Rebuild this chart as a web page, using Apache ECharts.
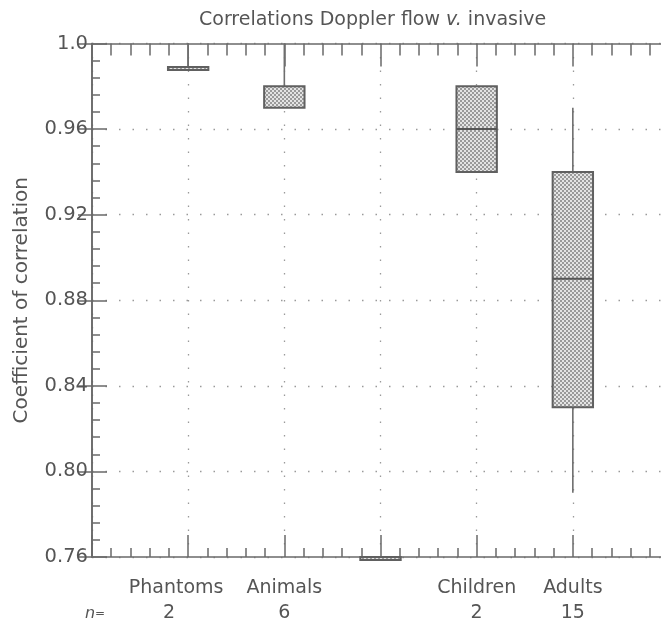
<!DOCTYPE html>
<html>
<head>
<meta charset="utf-8">
<script src="https://cdn.jsdelivr.net/npm/echarts@6/dist/echarts.min.js"></script>
<style>
html,body{margin:0;padding:0;background:#fff;}
#chart{width:661px;height:619px;}
</style>
</head>
<body>
<div id="chart"></div>
<script>
// ---- data ----
const categories = ['', 'Phantoms', 'Animals', '', 'Children', 'Adults', ''];
const nValues    = ['n=', '2', '6', '', '2', '15', ''];
const positions  = [1, 2, 3, 4, 5];
const lows    = [0.989, 0.970, 0.760, 0.940, 0.790];
const q1s     = [0.989, 0.970, 0.760, 0.940, 0.830];
const medians = [0.989, 0.970, 0.760, 0.960, 0.890];
const q3s     = [0.989, 0.980, 0.760, 0.980, 0.940];
const highs   = [1.000, 1.000, 0.760, 0.980, 0.970];
const yTicks  = [0.76, 0.80, 0.84, 0.88, 0.92, 0.96, 1.0];

// stipple pattern
const pc = document.createElement('canvas');
pc.width = 4; pc.height = 4;
const pctx = pc.getContext('2d');
pctx.fillStyle = '#e4e4e4'; pctx.fillRect(0,0,4,4);
pctx.fillStyle = '#9a9a9a'; pctx.fillRect(0,0,2,2); pctx.fillRect(2,2,2,2);
const stipple = {image: pc, repeat: 'repeat'};

const boxData = positions.map((p, i) => [p, lows[i], q1s[i], medians[i], q3s[i], highs[i]]);

const axisCol = '#6a6a6a';
const textCol = '#555555';
const font = 'DejaVu Sans';

const chart = echarts.init(document.getElementById('chart'));
chart.setOption({
  animation: false,
  backgroundColor: '#fff',
  title: {
    text: '{a|Correlations Doppler flow }{i|v.}{a| invasive}',
    left: 199, top: 11, padding: 0,
    textStyle: {
      fontWeight: 'normal',
      rich: {
        a: {fontFamily: font, fontSize: 19, fontWeight: 'normal', color: textCol},
        i: {fontFamily: font, fontSize: 19, fontWeight: 'normal', color: textCol, fontStyle: 'italic'}
      }
    }
  },
  grid: {left: 92, right: -8, top: 43.5, bottom: 62, outerBoundsMode: 'none', containLabel: false},
  xAxis: [{
    type: 'value', min: 0, max: 6, interval: 1, position: 'bottom',
    axisLine: {show: true, lineStyle: {color: axisCol, width: 1.6}},
    axisTick: {show: true, inside: true, length: 22, lineStyle: {color: axisCol, width: 1.5}},
    minorTick: {show: true, splitNumber: 5, length: 9, lineStyle: {color: axisCol, width: 1.5}},
    splitLine: {show: true, lineStyle: {color: '#9a9a9a', width: 1.3, type: [1.5, 12]}},
    axisLabel: {
      showMinLabel: true, showMaxLabel: true, margin: 19,
      formatter: function (v) {
        const i = Math.round(v);
        const name = categories[i] || '';
        const n = nValues[i] || '';
        if (i === 0) return '{b|}\n{ni|n}{ne|=}';
        if (i === 1) return '{ap|' + name + '}\n{bp|' + n + '}';
        return '{a|' + name + '}\n{b|' + n + '}';
      },
      rich: {
        a: {fontFamily: font, fontSize: 19, color: textCol, lineHeight: 25},
        b: {fontFamily: font, fontSize: 19, color: textCol, lineHeight: 25},
        ap: {fontFamily: font, fontSize: 19, color: textCol, lineHeight: 25, padding: [0, 24, 0, 0]},
        bp: {fontFamily: font, fontSize: 19, color: textCol, lineHeight: 25, padding: [0, 38, 0, 0]},
        ni: {fontFamily: font, fontSize: 16, color: textCol, lineHeight: 25, fontStyle: 'italic', padding: [0, 0, 0, 6]},
        ne: {fontFamily: font, fontSize: 12, color: textCol, lineHeight: 25}
      }
    }
  }, {
    type: 'value', min: 0, max: 6, interval: 1, position: 'top',
    axisLine: {show: true, lineStyle: {color: axisCol, width: 1.6}},
    axisTick: {show: true, inside: true, length: 23, lineStyle: {color: axisCol, width: 1.5}},
    minorTick: {show: true, splitNumber: 5, length: 12, lineStyle: {color: axisCol, width: 1.5}},
    splitLine: {show: false},
    axisLabel: {show: false}
  }],
  yAxis: [{
    type: 'value', min: 0.76, max: 1.0, interval: 0.04, position: 'left',
    name: 'Coefficient of correlation', nameLocation: 'middle', nameRotate: 90, nameGap: 60,
    nameTextStyle: {fontFamily: font, fontSize: 20, color: textCol},
    axisLine: {show: true, lineStyle: {color: axisCol, width: 1.6}},
    axisTick: {show: true, inside: true, length: 15, lineStyle: {color: axisCol, width: 1.5}},
    minorTick: {show: true, splitNumber: 5, length: 8, lineStyle: {color: axisCol, width: 1.5}},
    splitLine: {show: true, lineStyle: {color: '#9a9a9a', width: 1.3, type: [1.5, 12]}},
    axisLabel: {
      margin: 4, fontFamily: font, fontSize: 19.5, color: textCol,
      formatter: function (v) {
        let best = yTicks[0];
        yTicks.forEach(t => { if (Math.abs(t - v) < Math.abs(best - v)) best = t; });
        return best === 1.0 ? '1.0' : best.toFixed(2);
      }
    }
  }, {
    type: 'value', min: 0.76, max: 1.0, interval: 0.04, position: 'right',
    axisLine: {show: true, lineStyle: {color: axisCol, width: 1.6}},
    axisTick: {show: true, inside: true, length: 14, lineStyle: {color: axisCol, width: 1.5}},
    splitLine: {show: false},
    axisLabel: {show: false}
  }],
  series: [{
    type: 'custom',
    xAxisIndex: 0, yAxisIndex: 0,
    encode: {x: 0, y: [1, 2, 3, 4, 5]},
    data: boxData,
    clip: false,
    renderItem: function (params, api) {
      const x = api.value(0);
      const lo = api.value(1), q1 = api.value(2), md = api.value(3), q3 = api.value(4), hi = api.value(5);
      const pLo = api.coord([x, lo]), pQ1 = api.coord([x, q1]), pMd = api.coord([x, md]);
      const pQ3 = api.coord([x, q3]), pHi = api.coord([x, hi]);
      const w = api.size([1, 0])[0] * 0.42;
      const children = [];
      const lineStyle = {stroke: '#6e6e6e', lineWidth: 1.6};
      if (hi > q3) children.push({type: 'line', shape: {x1: pHi[0], y1: pHi[1], x2: pQ3[0], y2: pQ3[1]}, style: lineStyle});
      if (lo < q1) children.push({type: 'line', shape: {x1: pLo[0], y1: pLo[1], x2: pQ1[0], y2: pQ1[1]}, style: lineStyle});
      const h = Math.max(pQ1[1] - pQ3[1], 3);
      children.push({type: 'rect', shape: {x: pQ3[0] - w / 2, y: pQ3[1], width: w, height: h},
        style: {fill: stipple, stroke: '#606060', lineWidth: 2}});
      if (md > q1 && md < q3) children.push({type: 'line',
        shape: {x1: pMd[0] - w / 2, y1: pMd[1], x2: pMd[0] + w / 2, y2: pMd[1]},
        style: {stroke: '#555', lineWidth: 2}});
      return {type: 'group', children: children};
    }
  }]
});
</script>
</body>
</html>
